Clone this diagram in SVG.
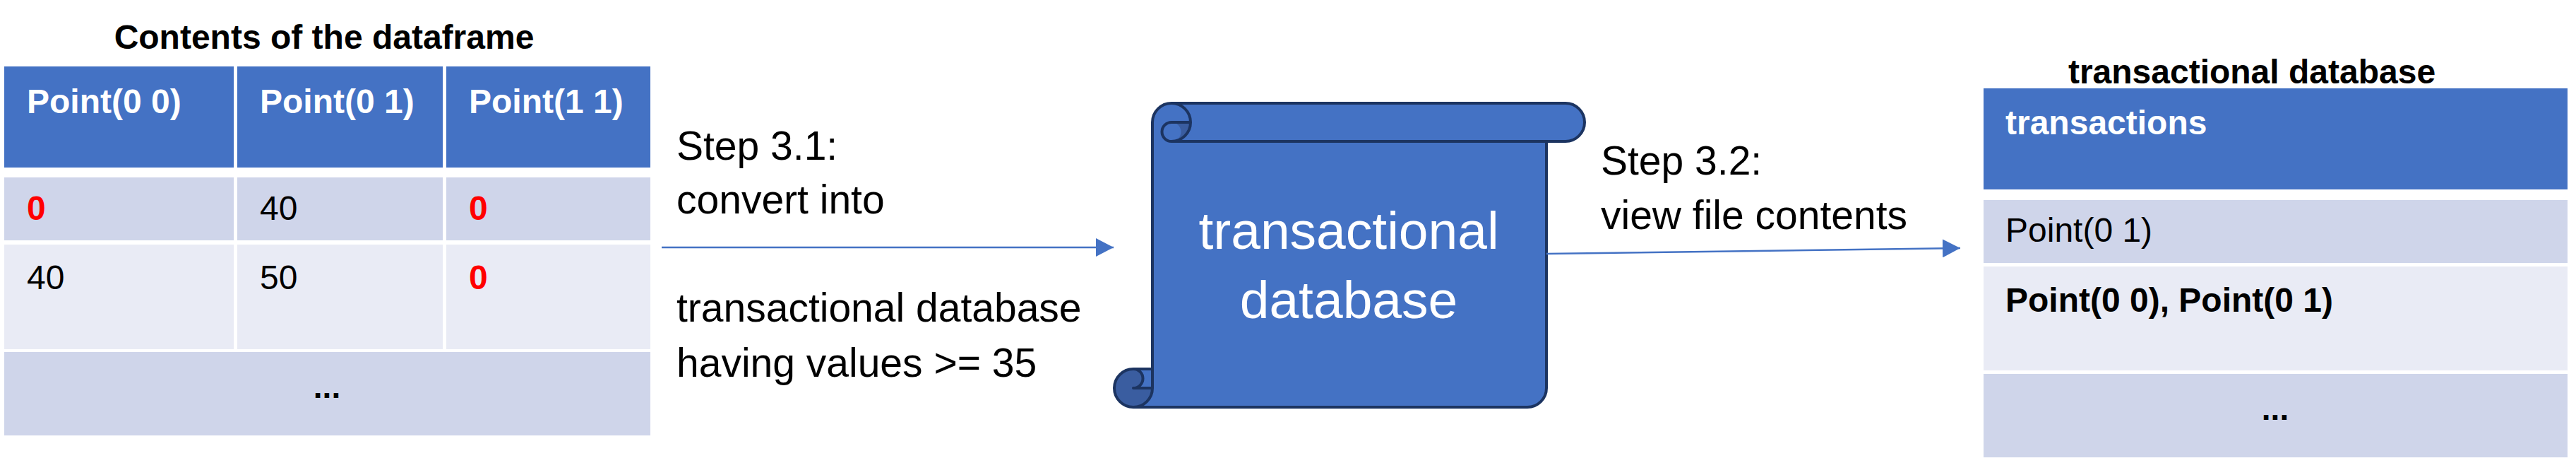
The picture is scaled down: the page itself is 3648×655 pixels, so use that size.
<svg xmlns="http://www.w3.org/2000/svg" width="3648" height="655" viewBox="0 0 3648 655">
<defs>
<style>
text { font-family: "Liberation Sans", Arial, sans-serif; }
.title { font-size: 48px; font-weight: bold; fill: #000; }
.hdr { fill: #4472C4; }
.odd { fill: #CFD5EA; }
.even { fill: #E9EBF5; }
.th { font-size: 48px; font-weight: bold; fill: #FFFFFF; }
.td { font-size: 48px; fill: #000; }
.tdb { font-size: 48px; font-weight: bold; fill: #000; }
.red { font-size: 48px; font-weight: bold; fill: #FF0000; }
.dots { font-size: 46px; font-weight: bold; fill: #000; text-anchor: middle; }
.step { font-size: 57px; fill: #000; }
.scrolltxt { font-size: 75px; fill: #FFFFFF; text-anchor: middle; }
.conn { stroke: #4472C4; stroke-width: 2.5; fill: none; }
</style>
<marker id="arrow" markerUnits="userSpaceOnUse" markerWidth="26" markerHeight="26" refX="25" refY="13" orient="auto">
<path d="M0,0 L25,13 L0,26 Z" fill="#4472C4"/>
</marker>
</defs>
<rect x="0" y="0" width="3648" height="655" fill="#FFFFFF"/>

<g id="dataframe-table">
<text class="title" x="459" y="69" text-anchor="middle">Contents of the dataframe</text>
<rect class="hdr" x="6" y="94" width="325" height="143"/>
<rect class="hdr" x="336" y="94" width="291" height="143"/>
<rect class="hdr" x="632" y="94" width="289" height="143"/>
<rect class="odd" x="6" y="251" width="325" height="89"/>
<rect class="odd" x="336" y="251" width="291" height="89"/>
<rect class="odd" x="632" y="251" width="289" height="89"/>
<rect class="even" x="6" y="346" width="325" height="148"/>
<rect class="even" x="336" y="346" width="291" height="148"/>
<rect class="even" x="632" y="346" width="289" height="148"/>
<rect class="odd" x="6" y="498" width="915" height="118"/>
<text class="th" x="38" y="160">Point(0 0)</text>
<text class="th" x="368" y="160">Point(0 1)</text>
<text class="th" x="664" y="160">Point(1 1)</text>
<text class="red" x="38" y="311">0</text>
<text class="td" x="368" y="311">40</text>
<text class="red" x="664" y="311">0</text>
<text class="td" x="38" y="409">40</text>
<text class="td" x="368" y="409">50</text>
<text class="red" x="664" y="409">0</text>
<text class="dots" x="463" y="563">...</text>
</g>

<g id="step31-label">
<text class="step" x="958" y="226">Step 3.1:</text>
<text class="step" x="958" y="302">convert into</text>
<text class="step" x="958" y="455">transactional database</text>
<text class="step" x="958" y="533">having values &gt;= 35</text>
</g>

<g id="scroll">
<path d="M1605,576 A27,27 0 0 1 1578,549 L1605,549 A13.5,13.5 0 0 1 1605,522 L1632,522 L1632,173 A27,27 0 0 1 1659,146 L2217,146 A27,27 0 0 1 2217,200 L2190,200 L2190,549 A27,27 0 0 1 2163,576 Z M1686,173 A27,27 0 0 1 1659,200 A13.5,13.5 0 0 1 1659,173 Z" fill="#4472C4"/>
<path d="M1686,173 A27,27 0 0 1 1659,200 A13.5,13.5 0 0 0 1659,173 Z M1632,549 A27,27 0 1 1 1605,522 A13.5,13.5 0 0 1 1605,549 Z" fill="#3A5DA0"/>
<path d="M1632,522 L1632,173 A27,27 0 0 1 1659,146 L2217,146 A27,27 0 0 1 2217,200 L2190,200 L2190,549 A27,27 0 0 1 2163,576 L1605,576 A27,27 0 0 1 1605,522 Z M1659,146 A27,27 0 0 1 1659,200 A13.5,13.5 0 0 1 1659,173 L1686,173 M2190,200 L1659,200 M1605,522 A13.5,13.5 0 0 1 1605,549 L1632,549 M1605,576 A27,27 0 0 0 1632,549 L1632,522" fill="none" stroke="#1C3461" stroke-width="4" stroke-linejoin="round"/>
<text class="scrolltxt" x="1910" y="352">transactional</text>
<text class="scrolltxt" x="1910" y="450">database</text>
</g>

<g id="step32-label">
<text class="step" x="2267" y="247">Step 3.2:</text>
<text class="step" x="2267" y="324">view file contents</text>
</g>

<g id="transactional-table">
<text class="title" x="3189" y="118" text-anchor="middle">transactional database</text>
<rect class="hdr" x="2809" y="125" width="827" height="143"/>
<rect class="odd" x="2809" y="283" width="827" height="89"/>
<rect class="even" x="2809" y="377" width="827" height="147"/>
<rect class="odd" x="2809" y="529" width="827" height="118"/>
<text class="th" x="2840" y="190">transactions</text>
<text class="td" x="2840" y="342">Point(0 1)</text>
<text class="tdb" x="2840" y="441">Point(0 0), Point(0 1)</text>
<text class="dots" x="3222" y="594">...</text>
</g>

<g id="connectors">
<line class="conn" x1="937" y1="350" x2="1577" y2="350" marker-end="url(#arrow)"/>
<line class="conn" x1="2190" y1="359" x2="2776" y2="351" marker-end="url(#arrow)"/>
</g>
</svg>
